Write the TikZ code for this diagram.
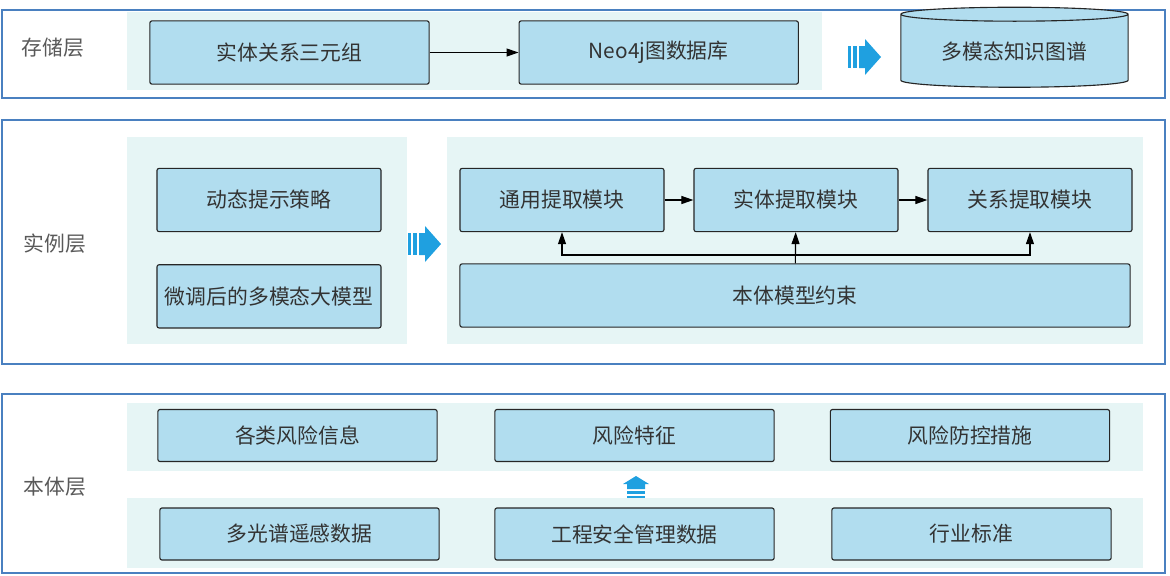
\documentclass[tikz,border=0pt]{standalone}
\usepackage{fontspec}
\newfontfamily\cjk{Noto Sans CJK SC}
\usetikzlibrary{
    shapes.geometric,
    arrows.meta,
    positioning,
    calc
}
\definecolor{boxblue}{HTML}{B1DDEF}
\definecolor{panelbg}{HTML}{E6F5F5}
\definecolor{layerline}{HTML}{4A80C0}
\definecolor{iconblue}{HTML}{1FA0E0}
\definecolor{txtgray}{HTML}{333333}

\begin{document}
\begin{tikzpicture}[
            x=0.025cm, y=-0.025cm,
            node distance=0.7cm and 0.72cm,
            layer_box/.style={draw=layerline, line width=0.9pt},
            panel/.style={fill=panelbg},
            block/.style={rectangle, draw=black!85, fill=boxblue, rounded corners=1.5pt, line width=0.8pt,
                          text=txtgray, font=\cjk\fontsize{14.8}{17}\selectfont, minimum height=1.58cm},
            wide_block/.style={block, minimum width=6.98cm},
            mid_block/.style={block, minimum width=5.6cm},
            low_block/.style={block, minimum width=6.98cm, minimum height=1.3cm},
            store/.style={cylinder, shape border rotate=90, draw=black!85, fill=boxblue, aspect=0.09,
                          line width=0.8pt, minimum width=5.68cm, minimum height=2cm,
                          text=txtgray, font=\cjk\fontsize{14.8}{17}\selectfont},
            layer_label/.style={text=black!65, font=\cjk\fontsize{14.8}{17}\selectfont},
            flow_arrow/.style={-{Triangle[length=0.3cm, width=0.2cm]}, line width=0.8pt, black},
            icon/.style={fill=iconblue, draw=none}
        ]
    \useasboundingbox (0,0) rectangle (1170,575);

    % storage layer
    \draw[layer_box] (2,10) rectangle (1165,98);
    \fill[panel] (127,12) rectangle (822,90);
    \node[layer_label] (store_label) at (53,48) {存储层};
    \node[wide_block] (triples) at (289.5,52.5) {实体关系三元组};
    \node[wide_block, right=2.22cm of triples] (neo) {Neo4j图数据库};
    \node[store] (mmkg) at (1014.5,52) {多模态知识图谱};

    % instance layer
    \draw[layer_box] (2,120) rectangle (1165,364);
    \fill[panel] (127,137) rectangle (407,344);
    \fill[panel] (447,137) rectangle (1143,344);
    \node[layer_label] (inst_label) at (55,244) {实例层};
    \node[mid_block] (prompt) at (269,200) {动态提示策略};
    \node[mid_block, below=0.8cm of prompt] (mllm) {微调后的多模态大模型};
    \node[block, minimum width=5.1cm] (general) at (562,200) {通用提取模块};
    \node[block, minimum width=5.1cm, right=of general] (entity) {实体提取模块};
    \node[block, minimum width=5.1cm, right=of entity] (relation) {关系提取模块};
    \node[block, minimum width=16.75cm] (onto) at (795,295.5) {本体模型约束};

    % ontology layer
    \draw[layer_box] (2,394) rectangle (1165,573);
    \fill[panel] (127,403) rectangle (1143,471);
    \fill[panel] (127,498) rectangle (1143,568);
    \node[layer_label] (onto_label) at (55,487) {本体层};
    \node[low_block] (riskinfo) at (297.5,435.5) {各类风险信息};
    \node[low_block] (riskfeat) at (634.5,435.5) {风险特征};
    \node[low_block] (riskctrl) at (970,435.5) {风险防控措施};
    \node[low_block] (remote) at (299.5,534) {多光谱遥感数据};
    \node[low_block] (safety) at (634.5,534) {工程安全管理数据};
    \node[low_block] (standard) at (971.5,534) {行业标准};

    % connectors
    \draw[flow_arrow] (triples) -- (neo);
    \draw[flow_arrow] (general) -- (entity);
    \draw[flow_arrow] (entity) -- (relation);
    \draw[flow_arrow] (onto) -- (entity);
    \coordinate (split) at (795,255);
    \draw[flow_arrow] (split) -| (general.south);
    \draw[flow_arrow] (split) -| (relation.south);

    % blue arrow icons
    \fill[icon] (848,46) rectangle (851,68);
    \fill[icon] (853,46) rectangle (857,68);
    \fill[icon] (859,46) -- (865,46) -- (865,39) -- (881,57) -- (865,75) -- (865,68) -- (859,68) -- cycle;
    \fill[icon] (408,233) rectangle (411,255);
    \fill[icon] (413,233) rectangle (417,255);
    \fill[icon] (419,233) -- (425,233) -- (425,226) -- (441,244) -- (425,262) -- (425,255) -- (419,255) -- cycle;
    \fill[icon] (623,484) -- (636,476) -- (649,484) -- (645,484) -- (645,489) -- (627,489) -- (627,484) -- cycle;
    \fill[icon] (627,491) rectangle (645,494);
    \fill[icon] (627,496) rectangle (645,498);

\end{tikzpicture}
\end{document}
